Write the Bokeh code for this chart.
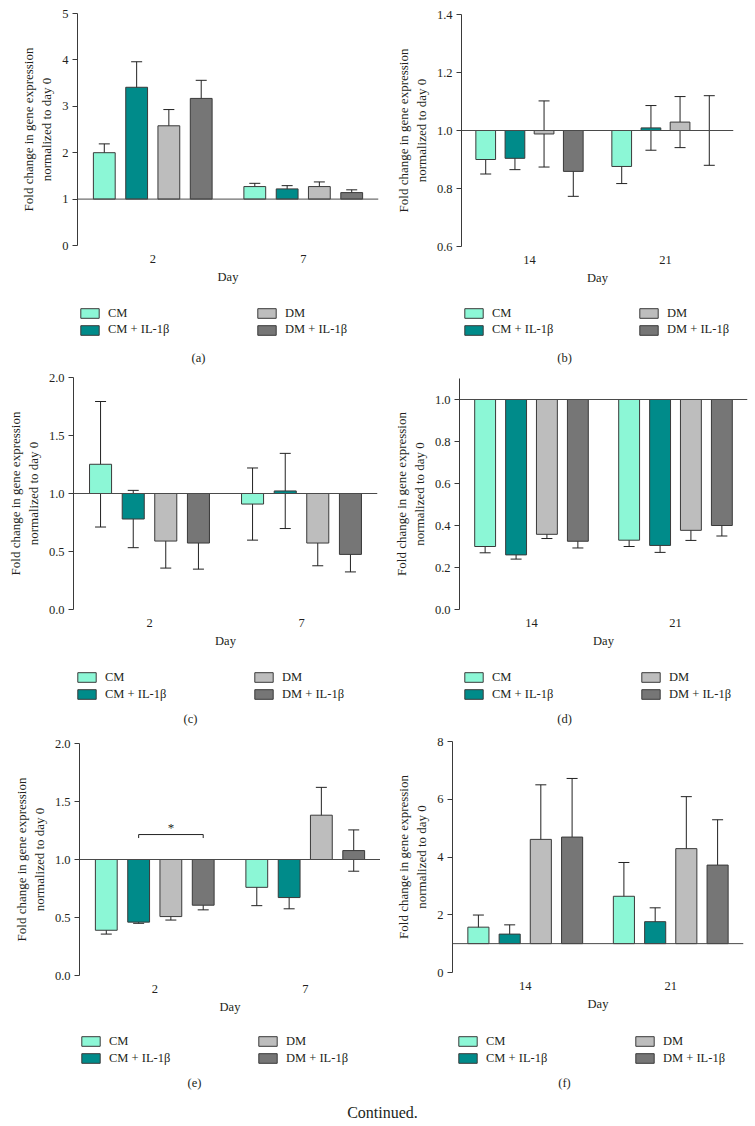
from bokeh.plotting import figure
from bokeh.models import (ColumnDataSource, Whisker, TeeHead, Span, Legend, LegendItem,
                          FixedTicker, Label, Div, PrintfTickFormatter)
from bokeh.layouts import column, row
from bokeh.embed import file_html
from bokeh.resources import INLINE
from bokeh.core.properties import value

# ---------------- data ----------------
series = ["CM", "CM + IL-1β", "DM", "DM + IL-1β"]
colors = ["#8cf7d6", "#008b8a", "#bdbdbd", "#767676"]
baseline = 1.0

# panel (a)
a_days = ["2", "7"]
a_cm, a_cm_err = [2.00, 1.27], [0.19, 0.07]
a_cmil, a_cmil_err = [3.41, 1.22], [0.55, 0.07]
a_dm, a_dm_err = [2.58, 1.27], [0.35, 0.10]
a_dmil, a_dmil_err = [3.17, 1.14], [0.39, 0.06]
a_yticks = [0, 1, 2, 3, 4, 5]

# panel (b)
b_days = ["14", "21"]
b_cm, b_cm_err = [0.900, 0.876], [0.050, 0.059]
b_cmil, b_cmil_err = [0.904, 1.009], [0.039, 0.077]
b_dm, b_dm_err = [0.988, 1.029], [0.114, 0.088]
b_dmil, b_dmil_err = [0.859, 1.000], [0.086, 0.120]
b_yticks = [0.6, 0.8, 1.0, 1.2, 1.4]

# panel (c)
c_days = ["2", "7"]
c_cm, c_cm_err = [1.252, 0.909], [0.541, 0.311]
c_cmil, c_cmil_err = [0.780, 1.022], [0.247, 0.324]
c_dm, c_dm_err = [0.590, 0.573], [0.233, 0.196]
c_dmil, c_dmil_err = [0.573, 0.475], [0.225, 0.151]
c_yticks = [0.0, 0.5, 1.0, 1.5, 2.0]

# panel (d)
d_days = ["14", "21"]
d_cm, d_cm_err = [0.300, 0.330], [0.030, 0.030]
d_cmil, d_cmil_err = [0.260, 0.305], [0.020, 0.033]
d_dm, d_dm_err = [0.358, 0.377], [0.020, 0.048]
d_dmil, d_dmil_err = [0.325, 0.400], [0.032, 0.050]
d_yticks = [0.0, 0.2, 0.4, 0.6, 0.8, 1.0]

# panel (e)
e_days = ["2", "7"]
e_cm, e_cm_err = [0.390, 0.760], [0.033, 0.158]
e_cmil, e_cmil_err = [0.460, 0.672], [0.010, 0.097]
e_dm, e_dm_err = [0.508, 1.382], [0.030, 0.240]
e_dmil, e_dmil_err = [0.606, 1.077], [0.040, 0.178]
e_yticks = [0.0, 0.5, 1.0, 1.5, 2.0]
e_sig_pair = (1, 3)      # CM + IL-1β vs DM + IL-1β at day 2
e_sig_y = 1.215
e_sig_drop = 0.03
e_sig_star_y = 1.28

# panel (f)
f_days = ["14", "21"]
f_cm, f_cm_err = [1.57, 2.64], [0.42, 1.17]
f_cmil, f_cmil_err = [1.33, 1.76], [0.32, 0.48]
f_dm, f_dm_err = [4.61, 4.29], [1.89, 1.80]
f_dmil, f_dmil_err = [4.69, 3.72], [2.03, 1.57]
f_yticks = [0, 2, 4, 6, 8]

# ---------------- styling / layout ----------------
FONT = "Liberation Serif"
TXT = "#231f20"
EDGE = "#3a3a3a"
OFFSETS = [-0.322, -0.107, 0.107, 0.322]
BAR_W = 0.145
YLABEL = "Fold change in gene expression\nnormalized to day 0"
XAXIS_ROOM = 50
GLYPH_H = 12
LEG_Y_FIX = 8.5


def make_panel(days, means, errs, yticks, yfmt, y_end, geom, caption):
    (left, width, row_top, row_h, fl, fr, ft, fb, leg_dx, leg_col, r1, r2,
     cap_dx, cap_dy) = geom
    plot_h = fb + XAXIS_ROOM - row_top
    p = figure(width=width, height=plot_h, x_range=(0.5, 2.5),
               y_range=(yticks[0], y_end), output_backend="svg",
               toolbar_location=None, min_border_left=fl - left,
               min_border_right=left + width - fr,
               min_border_top=ft - row_top, min_border_bottom=XAXIS_ROOM)
    p.outline_line_color = None
    p.grid.visible = False

    sources = []
    for i in range(4):
        xs = [g + 1 + OFFSETS[i] for g in range(len(days))]
        src = ColumnDataSource(dict(
            x=xs, top=means[i], bottom=[baseline] * len(days),
            upper=[m + e for m, e in zip(means[i], errs[i])],
            lower=[m - e for m, e in zip(means[i], errs[i])]))
        sources.append(src)
        p.vbar(x="x", top="top", bottom="bottom", width=BAR_W, source=src,
               fill_color=colors[i], line_color=EDGE, line_width=1)
        p.add_layout(Whisker(base="x", upper="upper", lower="lower", source=src,
                             line_color="#222222", line_width=1,
                             upper_head=TeeHead(size=11, line_color="#222222", line_width=1),
                             lower_head=TeeHead(size=11, line_color="#222222", line_width=1)))

    p.add_layout(Span(location=baseline, dimension="width", line_color="#4a4a4a",
                      line_width=1))

    ya = p.yaxis[0]
    ya.ticker = FixedTicker(ticks=yticks)
    ya.formatter = PrintfTickFormatter(format=yfmt)
    ya.axis_label = YLABEL
    ya.axis_label_text_font = FONT
    ya.axis_label_text_font_style = "normal"
    ya.axis_label_text_font_size = "13px"
    ya.axis_label_text_color = TXT
    ya.axis_label_standoff = 5
    ya.major_label_text_font = FONT
    ya.major_label_text_font_size = "12.5px"
    ya.major_label_text_color = TXT
    ya.major_label_standoff = 4
    ya.major_tick_out = 5
    ya.major_tick_in = 0
    ya.minor_tick_line_color = None
    ya.axis_line_color = EDGE
    ya.major_tick_line_color = EDGE

    xa = p.xaxis[0]
    xa.ticker = FixedTicker(ticks=[1, 2])
    xa.major_label_overrides = {1: days[0], 2: days[1]}
    xa.axis_label = "Day"
    xa.axis_label_text_font = FONT
    xa.axis_label_text_font_style = "normal"
    xa.axis_label_text_font_size = "12.5px"
    xa.axis_label_text_color = TXT
    xa.axis_label_standoff = 4
    xa.major_label_text_font = FONT
    xa.major_label_text_font_size = "12.5px"
    xa.major_label_text_color = TXT
    xa.major_label_standoff = 3
    xa.axis_line_color = None
    xa.major_tick_line_color = None
    xa.minor_tick_line_color = None

    # legend + caption strip under the plot (legend proxies share the bar sources,
    # drawn far outside this strip's visible range)
    leg_h = row_top + row_h - (fb + XAXIS_ROOM)
    bottom_page = row_top + row_h
    lf = figure(width=width, height=leg_h, x_range=(1000, 1001), y_range=(1000, 1001),
                output_backend="svg", toolbar_location=None,
                x_axis_location=None, y_axis_location=None,
                min_border=0, min_border_left=0, min_border_right=0,
                min_border_top=0, min_border_bottom=0)
    lf.outline_line_color = None
    lf.grid.visible = False
    row_centers = [fb + r1, fb + r2]
    for i in range(4):
        r = lf.vbar(x="x", top="top", bottom="bottom", width=BAR_W, source=sources[i],
                    fill_color=colors[i], line_color=EDGE, line_width=1)
        col, rw = divmod(i, 2)
        lx = leg_dx + col * leg_col
        ly = bottom_page - row_centers[rw] - LEG_Y_FIX
        lf.add_layout(Legend(items=[LegendItem(label=series[i], renderers=[r])],
                             location=(lx, ly), glyph_width=23, glyph_height=GLYPH_H,
                             label_standoff=7, label_height=GLYPH_H, padding=0,
                             margin=0, spacing=0, border_line_color=None,
                             background_fill_alpha=0, label_text_font=FONT,
                             label_text_font_size="12.5px", label_text_color=TXT))
    lf.add_layout(Label(x=cap_dx, y=bottom_page - (fb + cap_dy),
                        x_units="screen", y_units="screen", text=caption,
                        text_align="center", text_baseline="middle",
                        text_font=FONT, text_font_size="12.5px", text_color=TXT))
    return p, column(p, lf)


# geometry: page-x of figure, width, row top, row height,
#           frame left/right/top/bottom, legend dx, legend column step,
#           legend rows, caption dx/dy
pa, ca = make_panel(a_days, [a_cm, a_cmil, a_dm, a_dmil],
                    [a_cm_err, a_cmil_err, a_dm_err, a_dmil_err], a_yticks, "%d", 5,
                    (0, 380, 0, 368, 77, 378, 13, 245, 1, 177, 67, 83.5, 121, 112), "(a)")
pb, cb = make_panel(b_days, [b_cm, b_cmil, b_dm, b_dmil],
                    [b_cm_err, b_cmil_err, b_dm_err, b_dmil_err], b_yticks, "%.1f", 1.4,
                    (380, 375, 0, 368, 461, 733, 14, 246, 1, 175, 66, 82.5, 103, 111), "(b)")
pc, cc = make_panel(c_days, [c_cm, c_cmil, c_dm, c_dmil],
                    [c_cm_err, c_cmil_err, c_dm_err, c_dmil_err], c_yticks, "%.1f", 2.0,
                    (0, 380, 368, 360, 73, 377, 377, 609, 2, 177, 67, 84, 117, 109), "(c)")
pd_, cd = make_panel(d_days, [d_cm, d_cmil, d_dm, d_dmil],
                     [d_cm_err, d_cmil_err, d_dm_err, d_dmil_err], d_yticks, "%.1f", 1.1,
                     (380, 375, 368, 360, 459, 747, 378, 609, 3, 177, 67, 84, 105, 109), "(d)")
pe, ce = make_panel(e_days, [e_cm, e_cmil, e_dm, e_dmil],
                    [e_cm_err, e_cmil_err, e_dm_err, e_dmil_err], e_yticks, "%.1f", 2.0,
                    (0, 380, 728, 362, 79, 380, 743, 975, 0, 177, 65, 82, 115, 107), "(e)")
pf, cf = make_panel(f_days, [f_cm, f_cmil, f_dm, f_dmil],
                    [f_cm_err, f_cmil_err, f_dm_err, f_dmil_err], f_yticks, "%d", 8,
                    (380, 375, 728, 362, 452, 743, 741, 972, 4, 177, 68, 85, 112, 110), "(f)")

# significance bracket in (e)
i1, i2 = e_sig_pair
x1 = 1 + OFFSETS[i1]
x2 = 1 + OFFSETS[i2]
pe.line(x=[x1, x1, x2, x2],
        y=[e_sig_y - e_sig_drop, e_sig_y, e_sig_y, e_sig_y - e_sig_drop],
        line_color="#222222", line_width=1)
pe.text(x=[(x1 + x2) / 2], y=[e_sig_star_y], text=["*"], text_align="center",
        text_baseline="middle", text_font=value(FONT), text_font_size="13px",
        text_color=TXT)

cont = Div(text='<div style="width:755px;text-align:center;font-family:\'Liberation Serif\';'
                'font-size:16px;line-height:16px;padding-top:10px;color:#231f20;">'
                'Continued.</div>', width=755, height=36)

layout = column(row(ca, cb), row(cc, cd), row(ce, cf), cont)

open("out.html", "w").write(file_html(layout, INLINE))
